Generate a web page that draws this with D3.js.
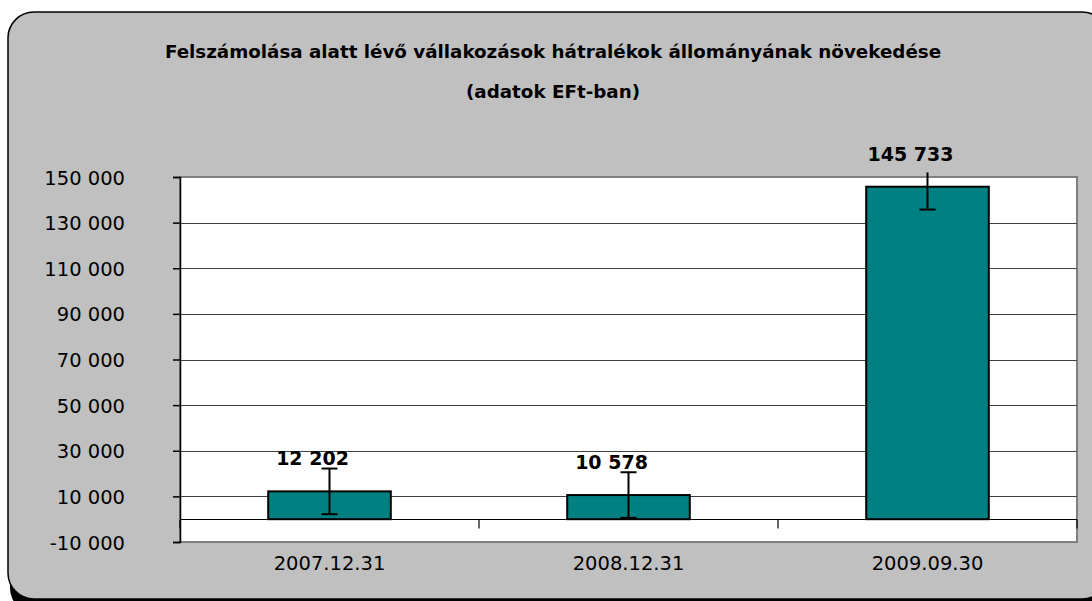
<!DOCTYPE html>
<html>
<head>
<meta charset="utf-8">
<script src="https://cdn.jsdelivr.net/npm/d3@7"></script>
<style>
body { margin: 0; background: #fff; }
</style>
</head>
<body>
<div id="grafica"></div>
<script>
var datumok = ['2007.12.31', '2008.12.31', '2009.09.30'];
var ertekek = [12202, 10578, 145733];
var hibak = [10000, 10000, 10000];
var tengely = [-10000, 10000, 30000, 50000, 70000, 90000, 110000, 130000, 150000];
var cim1 = 'Felszámolása alatt lévő vállakozások hátralékok állományának növekedése';
var cim2 = '(adatok EFt-ban)';

var szurke = "#c0c0c0";
var zold = "#008080";

var hu = d3.formatLocale({decimal: ",", thousands: " ", grouping: [3], currency: ["", " Ft"], minus: "-"});
var fmt = hu.format(",d");

var svg = d3.select("#grafica")
	.append("svg")
	.attr("width", 1092)
	.attr("height", 601);

// kulso keret arnyekkal
svg.append("rect")
	.attr("x", 10).attr("y", 14)
	.attr("width", 1100).attr("height", 600)
	.attr("rx", 26)
	.attr("fill", "#000");
svg.append("rect")
	.attr("x", 8).attr("y", 12)
	.attr("width", 1100).attr("height", 587)
	.attr("rx", 26)
	.attr("fill", szurke)
	.attr("stroke", "#000")
	.attr("stroke-width", 1.5);

svg.append("text")
	.attr("x", 553).attr("y", 58)
	.attr("text-anchor", "middle")
	.attr("font-family", "DejaVu Sans")
	.attr("font-size", "18.3px")
	.attr("font-weight", "bold")
	.text(cim1);
svg.append("text")
	.attr("x", 553).attr("y", 98)
	.attr("text-anchor", "middle")
	.attr("font-family", "DejaVu Sans")
	.attr("font-size", "18.3px")
	.attr("font-weight", "bold")
	.text(cim2);

var bal = 180, jobb = 1077, fent = 177, lent = 542;

var y = d3.scaleLinear().domain([-10000, 150000]).range([lent, fent]);
var x = d3.scaleBand().domain(datumok).range([bal, jobb]).paddingInner(0.59).paddingOuter(0.295);

// rajzterulet
svg.append("rect")
	.attr("x", bal).attr("y", fent)
	.attr("width", jobb - bal).attr("height", lent - fent)
	.attr("fill", "#fff")
	.attr("stroke", "#808080")
	.attr("stroke-width", 2);

// racsvonalak
svg.append("g").selectAll("line")
	.data(tengely.slice(1, -1))
	.enter().append("line")
	.attr("x1", bal).attr("x2", jobb)
	.attr("y1", function(d) { return Math.round(y(d)) + 0.5; })
	.attr("y2", function(d) { return Math.round(y(d)) + 0.5; })
	.attr("stroke", "#404040")
	.attr("stroke-width", 1);

// y tengely
var yAxis = d3.axisLeft(y).tickValues(tengely).tickSize(7).tickPadding(48).tickFormat(fmt);
var gy = svg.append("g").attr("transform", "translate(" + bal + ",0)").call(yAxis);
gy.select(".domain").attr("stroke", "#000").attr("stroke-width", 1.5);
gy.selectAll(".tick line").attr("stroke", "#000").attr("stroke-width", 1.5);
gy.selectAll("text")
	.attr("font-family", "DejaVu Sans")
	.attr("font-size", "19.5px")
	.attr("fill", "#000")
	.attr("dy", "0.36em");

// x tengely a nullanal
var nulla = Math.round(y(0)) + 0.5;
svg.append("line")
	.attr("x1", bal).attr("x2", jobb)
	.attr("y1", nulla).attr("y2", nulla)
	.attr("stroke", "#000").attr("stroke-width", 1.2);
var hatarok = datumok.map(function(d) { return x(d) - x.step() * x.paddingInner() / 2; });
hatarok.push(jobb);
svg.append("g").selectAll("line")
	.data(hatarok)
	.enter().append("line")
	.attr("x1", function(d) { return d; })
	.attr("x2", function(d) { return d; })
	.attr("y1", nulla).attr("y2", nulla + 9)
	.attr("stroke", "#000").attr("stroke-width", 1.2);

svg.append("g").selectAll("text")
	.data(datumok)
	.enter().append("text")
	.attr("x", function(d) { return x(d) + x.bandwidth() / 2; })
	.attr("y", 570)
	.attr("text-anchor", "middle")
	.attr("font-family", "DejaVu Sans")
	.attr("font-size", "19.5px")
	.text(function(d) { return d; });

// oszlopok
svg.append("g").selectAll("rect")
	.data(ertekek)
	.enter().append("rect")
	.attr("x", function(d, i) { return x(datumok[i]); })
	.attr("y", function(d) { return y(d); })
	.attr("width", x.bandwidth())
	.attr("height", function(d) { return y(0) - y(d); })
	.attr("fill", zold)
	.attr("stroke", "#000")
	.attr("stroke-width", 2);

// hibasavok (a felso vege a rajzterulet fole levagva)
var felsoHatar = 152000;
var hb = svg.append("g");
ertekek.forEach(function(d, i) {
	var cx = x(datumok[i]) + x.bandwidth() / 2;
	var felso = Math.min(d + hibak[i], felsoHatar);
	var also = d - hibak[i];
	hb.append("line")
		.attr("x1", cx).attr("x2", cx)
		.attr("y1", y(felso)).attr("y2", y(also))
		.attr("stroke", "#000").attr("stroke-width", 2);
	hb.append("line")
		.attr("x1", cx - 8).attr("x2", cx + 8)
		.attr("y1", y(also)).attr("y2", y(also))
		.attr("stroke", "#000").attr("stroke-width", 2);
	if (d + hibak[i] <= felsoHatar) {
		hb.append("line")
			.attr("x1", cx - 8).attr("x2", cx + 8)
			.attr("y1", y(felso)).attr("y2", y(felso))
			.attr("stroke", "#000").attr("stroke-width", 2);
	}
});

// ertek cimkek
svg.append("g").selectAll("text")
	.data(ertekek)
	.enter().append("text")
	.attr("x", function(d, i) { return x(datumok[i]) + x.bandwidth() / 2 - 17; })
	.attr("y", function(d) { return y(d) - 26; })
	.attr("text-anchor", "middle")
	.attr("font-family", "DejaVu Sans")
	.attr("font-size", "19px")
	.attr("font-weight", "bold")
	.text(function(d) { return fmt(d); });
</script>
</body>
</html>
